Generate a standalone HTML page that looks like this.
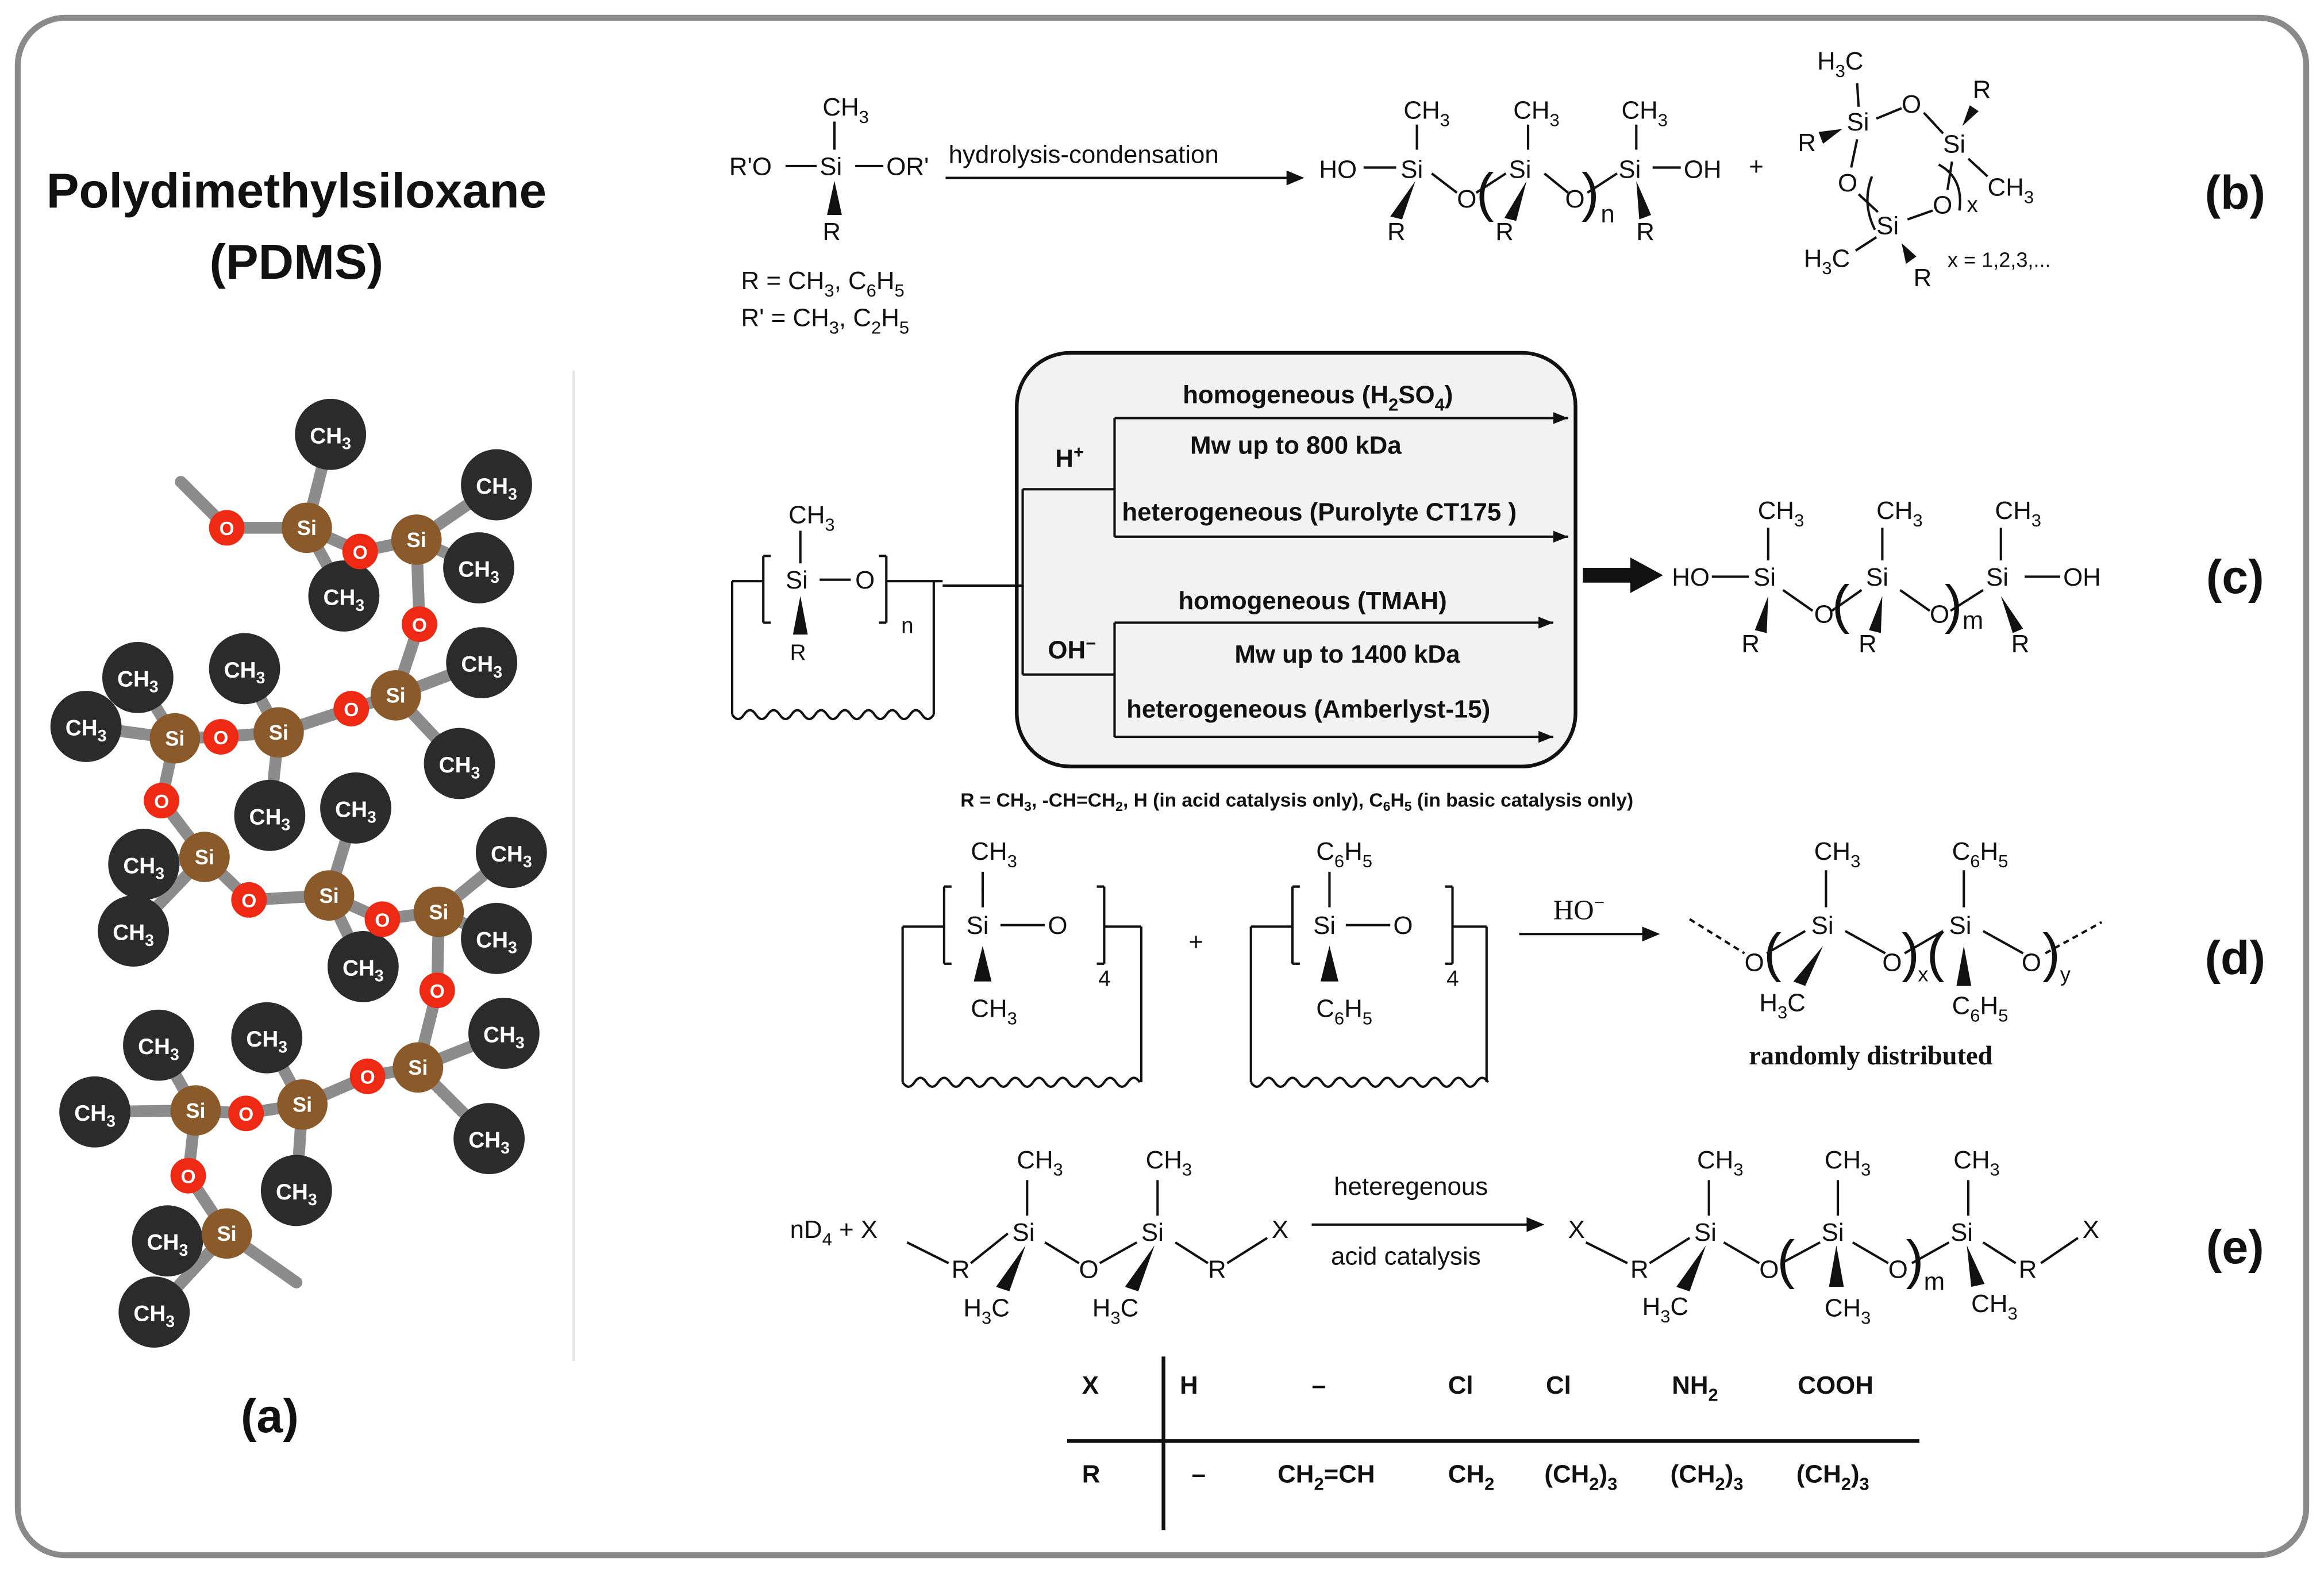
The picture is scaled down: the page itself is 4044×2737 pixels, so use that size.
<!DOCTYPE html>
<html><head><meta charset="utf-8">
<style>
html,body{margin:0;padding:0;background:#fff;}
svg{display:block;}
text{font-family:"Liberation Sans",sans-serif;fill:#111;}
.c{font-size:17px;}
.b{font-size:17px;font-weight:bold;}
.s{font-size:12px;}
.lab{font-size:32px;font-weight:bold;}
.p{font-size:36px;font-weight:normal;}
.serif{font-family:"Liberation Serif",serif;}
.w{fill:#fff;font-weight:bold;}
</style></head><body>
<svg width="4044" height="2737" viewBox="0 0 1568 1061" preserveAspectRatio="none" xmlns="http://www.w3.org/2000/svg">
<rect x="0" y="0" width="1568" height="1061" fill="#fff"/>
<rect x="12" y="12" width="1544" height="1037" rx="32" fill="#fff" stroke="#8a8a8a" stroke-width="4"/>

<!-- (a) -->
<text x="200" y="140" text-anchor="middle" style="font-size:33px;font-weight:bold">Polydimethylsiloxane</text>
<text x="200" y="188" text-anchor="middle" style="font-size:33px;font-weight:bold">(PDMS)</text>
<text x="182" y="966" text-anchor="middle" class="lab">(a)</text>
<line x1="387" y1="250" x2="387" y2="918" stroke="#e4e4e4" stroke-width="1.5"/>

<g stroke="#8c8c8c" stroke-width="8" stroke-linecap="round">
<path d="M207 356L223 293M207 356L153 356M207 356L243 372M207 356L232 402M153 356L122 325
M281 364L243 372M281 364L335 327M281 364L323 383M281 364L283 421M283 421L267 469
M267 469L325 447M267 469L310 515M267 469L237 478M237 478L188 494
M188 494L165 451M188 494L149 497M188 494L182 550M149 497L118 498
M118 498L93 457M118 498L58 490M118 498L109 540M109 540L138 578
M138 578L97 583M138 578L90 628M138 578L168 607M168 607L222 604
M222 604L240 545M222 604L245 652M222 604L258 620M258 620L296 615
M296 615L345 575M296 615L335 633M296 615L295 668M295 668L282 720
M282 720L340 697M282 720L330 768M282 720L248 726M248 726L204 745
M204 745L180 700M204 745L200 803M204 745L166 751M166 751L132 749
M132 749L107 705M132 749L64 750M132 749L127 793M127 793L153 832
M153 832L113 837M153 832L104 885M153 832L200 865"/>
</g>
<g>
<g fill="#2b2b2b">
<circle cx="223" cy="293" r="24"/><circle cx="335" cy="327" r="24"/><circle cx="323" cy="383" r="24"/><circle cx="232" cy="402" r="24"/>
<circle cx="93" cy="457" r="24"/><circle cx="165" cy="451" r="24"/><circle cx="325" cy="447" r="24"/><circle cx="58" cy="490" r="24"/>
<circle cx="310" cy="515" r="24"/><circle cx="182" cy="550" r="24"/><circle cx="240" cy="545" r="24"/><circle cx="345" cy="575" r="24"/>
<circle cx="97" cy="583" r="24"/><circle cx="90" cy="628" r="24"/><circle cx="335" cy="633" r="24"/><circle cx="245" cy="652" r="24"/>
<circle cx="107" cy="705" r="24"/><circle cx="180" cy="700" r="24"/><circle cx="340" cy="697" r="24"/><circle cx="64" cy="750" r="24"/>
<circle cx="330" cy="768" r="24"/><circle cx="200" cy="803" r="24"/><circle cx="113" cy="837" r="24"/><circle cx="104" cy="885" r="24"/>
</g>
<g fill="#8a5a2a">
<circle cx="207" cy="356" r="17"/><circle cx="281" cy="364" r="17"/><circle cx="118" cy="498" r="17"/><circle cx="188" cy="494" r="17"/>
<circle cx="267" cy="469" r="17"/><circle cx="138" cy="578" r="17"/><circle cx="222" cy="604" r="17"/><circle cx="296" cy="615" r="17"/>
<circle cx="132" cy="749" r="17"/><circle cx="204" cy="745" r="17"/><circle cx="282" cy="720" r="17"/><circle cx="153" cy="832" r="17"/>
</g>
<g fill="#ee2a14">
<circle cx="153" cy="356" r="12"/><circle cx="243" cy="372" r="12"/><circle cx="283" cy="421" r="12"/><circle cx="149" cy="497" r="12"/>
<circle cx="237" cy="478" r="12"/><circle cx="109" cy="540" r="12"/><circle cx="168" cy="607" r="12"/><circle cx="258" cy="620" r="12"/>
<circle cx="295" cy="668" r="12"/><circle cx="166" cy="751" r="12"/><circle cx="248" cy="726" r="12"/><circle cx="127" cy="793" r="12"/>
</g>
<g class="w" style="font-size:15px" text-anchor="middle">
<text class="w" x="223" y="299">CH<tspan dy="4" font-size="11">3</tspan></text><text class="w" x="335" y="333">CH<tspan dy="4" font-size="11">3</tspan></text>
<text class="w" x="323" y="389">CH<tspan dy="4" font-size="11">3</tspan></text><text class="w" x="232" y="408">CH<tspan dy="4" font-size="11">3</tspan></text>
<text class="w" x="93" y="463">CH<tspan dy="4" font-size="11">3</tspan></text><text class="w" x="165" y="457">CH<tspan dy="4" font-size="11">3</tspan></text>
<text class="w" x="325" y="453">CH<tspan dy="4" font-size="11">3</tspan></text><text class="w" x="58" y="496">CH<tspan dy="4" font-size="11">3</tspan></text>
<text class="w" x="310" y="521">CH<tspan dy="4" font-size="11">3</tspan></text><text class="w" x="182" y="556">CH<tspan dy="4" font-size="11">3</tspan></text>
<text class="w" x="240" y="551">CH<tspan dy="4" font-size="11">3</tspan></text><text class="w" x="345" y="581">CH<tspan dy="4" font-size="11">3</tspan></text>
<text class="w" x="97" y="589">CH<tspan dy="4" font-size="11">3</tspan></text><text class="w" x="90" y="634">CH<tspan dy="4" font-size="11">3</tspan></text>
<text class="w" x="335" y="639">CH<tspan dy="4" font-size="11">3</tspan></text><text class="w" x="245" y="658">CH<tspan dy="4" font-size="11">3</tspan></text>
<text class="w" x="107" y="711">CH<tspan dy="4" font-size="11">3</tspan></text><text class="w" x="180" y="706">CH<tspan dy="4" font-size="11">3</tspan></text>
<text class="w" x="340" y="703">CH<tspan dy="4" font-size="11">3</tspan></text><text class="w" x="64" y="756">CH<tspan dy="4" font-size="11">3</tspan></text>
<text class="w" x="330" y="774">CH<tspan dy="4" font-size="11">3</tspan></text><text class="w" x="200" y="809">CH<tspan dy="4" font-size="11">3</tspan></text>
<text class="w" x="113" y="843">CH<tspan dy="4" font-size="11">3</tspan></text><text class="w" x="104" y="891">CH<tspan dy="4" font-size="11">3</tspan></text>
</g>
<g style="font-size:14px" text-anchor="middle">
<text class="w" x="207" y="361">Si</text><text class="w" x="281" y="369">Si</text><text class="w" x="118" y="503">Si</text><text class="w" x="188" y="499">Si</text>
<text class="w" x="267" y="474">Si</text><text class="w" x="138" y="583">Si</text><text class="w" x="222" y="609">Si</text><text class="w" x="296" y="620">Si</text>
<text class="w" x="132" y="754">Si</text><text class="w" x="204" y="750">Si</text><text class="w" x="282" y="725">Si</text><text class="w" x="153" y="837">Si</text>
</g>
<g style="font-size:13px" text-anchor="middle">
<text class="w" x="153" y="361">O</text><text class="w" x="243" y="377">O</text><text class="w" x="283" y="426">O</text><text class="w" x="149" y="502">O</text>
<text class="w" x="237" y="483">O</text><text class="w" x="109" y="545">O</text><text class="w" x="168" y="612">O</text><text class="w" x="258" y="625">O</text>
<text class="w" x="295" y="673">O</text><text class="w" x="166" y="756">O</text><text class="w" x="248" y="731">O</text><text class="w" x="127" y="798">O</text>
</g>
</g>

<g stroke="#111" stroke-width="1.6" fill="none">
<!-- (b) lines -->
<path d="M530 112H551M577 112H596M563 82V101"/>
<path d="M638 120H878"/>
<path d="M920 113H942M956 84V101M966 117L983 130M996 130L1016 117M1031 84V101M1042 117L1058 130M1071 130L1091 117M1104 84V101M1115 113H1134"/>
<!-- cyclic -->
<path d="M1253 56L1254 72M1266 80L1283 73M1298 76L1311 90M1328 107L1341 119M1253 94L1249 113M1254 131L1267 143M1287 148L1304 142M1314 128L1317 109M1266 160L1252 169"/>
<path d="M1263 119Q1256 137 1265 155"/>
<path d="M1308 111Q1325 120 1322 142"/>
</g>
<g fill="#111">
<polygon points="880,120 868,115 868,125"/>
<polygon points="563,122 558,145 568,145"/>
<polygon points="955,122 938,146 946,148"/>
<polygon points="1030,122 1015,147 1023,149"/>
<polygon points="1104,122 1106,148 1114,145"/>
<polygon points="1243,87 1227,89 1230,97"/>
<polygon points="1324,85 1329,71 1335,75"/>
<polygon points="1283,164 1286,178 1293,173"/>
</g>
<text class="c" x="492" y="118">R'O</text><text class="c" x="553" y="118">Si</text><text class="c" x="598" y="118">OR'</text>
<text class="c" x="555" y="78">CH<tspan class="s" dy="5">3</tspan></text>
<text class="c" x="555" y="162">R</text>
<text class="c" x="640" y="110">hydrolysis-condensation</text>
<text class="c" x="500" y="195">R = CH<tspan class="s" dy="5">3</tspan><tspan dy="-5">, C</tspan><tspan class="s" dy="5">6</tspan><tspan dy="-5">H</tspan><tspan class="s" dy="5">5</tspan></text>
<text class="c" x="500" y="220">R' = CH<tspan class="s" dy="5">3</tspan><tspan dy="-5">, C</tspan><tspan class="s" dy="5">2</tspan><tspan dy="-5">H</tspan><tspan class="s" dy="5">5</tspan></text>
<text class="c" x="890" y="120">HO</text><text class="c" x="945" y="120">Si</text>
<text class="c" x="947" y="80">CH<tspan class="s" dy="5">3</tspan></text><text class="c" x="936" y="162">R</text>
<text class="c" x="983" y="140">O</text><text class="p" x="996" y="142">(</text>
<text class="c" x="1018" y="120">Si</text><text class="c" x="1021" y="80">CH<tspan class="s" dy="5">3</tspan></text><text class="c" x="1009" y="162">R</text>
<text class="c" x="1056" y="140">O</text><text class="p" x="1067" y="142">)</text><text class="c" x="1080" y="150">n</text>
<text class="c" x="1092" y="120">Si</text><text class="c" x="1094" y="80">CH<tspan class="s" dy="5">3</tspan></text><text class="c" x="1104" y="162">R</text>
<text class="c" x="1136" y="120">OH</text><text class="c" x="1180" y="118">+</text>
<text class="c" x="1226" y="47">H<tspan class="s" dy="5">3</tspan><tspan dy="-5">C</tspan></text>
<text class="c" x="1246" y="88">Si</text><text class="c" x="1283" y="76">O</text><text class="c" x="1331" y="66">R</text>
<text class="c" x="1311" y="103">Si</text><text class="c" x="1341" y="132">CH<tspan class="s" dy="5">3</tspan></text>
<text class="c" x="1213" y="102">R</text><text class="c" x="1240" y="129">O</text><text class="c" x="1304" y="144">O</text>
<text class="c" x="1327" y="143" style="font-size:15px">x</text>
<text class="c" x="1266" y="158">Si</text><text class="c" x="1217" y="180">H<tspan class="s" dy="5">3</tspan><tspan dy="-5">C</tspan></text>
<text class="c" x="1291" y="193">R</text><text style="font-size:14px" x="1314" y="180">x = 1,2,3,...</text>
<text x="1508" y="141" class="lab" text-anchor="middle">(b)</text>

<!-- (c) -->
<rect x="686" y="238" width="377" height="279" rx="36" fill="#f2f2f2" stroke="#111" stroke-width="2.5"/>
<g stroke="#111" stroke-width="1.6" fill="none">
<path d="M494 392V482M630 392V482M494 392H515M598 392H636M515 375V420M515 375H520M515 420H520M598 375V420M598 375H593M598 420H593"/>
<path d="M540 358V380M553 391H574"/>
<path d="M494 482q4 6 8 0t8 0t8 0t8 0t8 0t8 0t8 0t8 0t8 0t8 0t8 0t8 0t8 0t8 0t8 0t8 0t8 0"/>
<path d="M636 395H690M690 330V455M690 330H752M690 455H752M752 282V362M752 282H1058M752 362H1058M752 420V497M752 420H1048M752 497H1048"/>
<path d="M1155 389H1180M1193 356V378M1203 398L1223 412M1236 412L1256 398M1270 356V378M1282 398L1302 412M1316 412L1338 398M1350 356V378M1366 389H1390"/>
</g>
<g fill="#111">
<polygon points="540,402 535,428 545,428"/>
<polygon points="1058,282 1048,278 1048,286"/><polygon points="1058,362 1048,358 1048,366"/>
<polygon points="1048,420 1038,416 1038,424"/><polygon points="1048,497 1038,493 1038,501"/>
<polygon points="1068,383 1100,383 1100,376 1122,388 1100,400 1100,393 1068,393"/>
<polygon points="1193,402 1184,425 1192,427"/>
<polygon points="1270,402 1261,425 1269,427"/>
<polygon points="1350,402 1358,427 1365,424"/>
</g>
<text class="c" x="532" y="353">CH<tspan class="s" dy="5">3</tspan></text>
<text class="c" x="530" y="397">Si</text><text class="c" x="577" y="397">O</text><text class="c" x="608" y="427" style="font-size:15px">n</text>
<text class="c" x="533" y="445" style="font-size:15px">R</text>
<text class="b" x="712" y="315">H<tspan class="s" dy="-6">+</tspan></text>
<text class="b" x="707" y="444">OH<tspan class="s" dy="-6">−</tspan></text>
<text class="b" x="798" y="272">homogeneous (H<tspan class="s" dy="5">2</tspan><tspan dy="-5">SO</tspan><tspan class="s" dy="5">4</tspan><tspan dy="-5">)</tspan></text>
<text class="b" x="803" y="306">Mw  up to 800 kDa</text>
<text class="b" x="757" y="351">heterogeneous (Purolyte CT175 )</text>
<text class="b" x="795" y="411">homogeneous (TMAH)</text>
<text class="b" x="833" y="447">Mw up to 1400 kDa</text>
<text class="b" x="760" y="484">heterogeneous (Amberlyst-15)</text>
<text class="c" x="1128" y="395">HO</text><text class="c" x="1183" y="395">Si</text><text class="c" x="1186" y="350">CH<tspan class="s" dy="5">3</tspan></text>
<text class="c" x="1175" y="440">R</text><text class="c" x="1224" y="420">O</text><text class="p" x="1236" y="420">(</text>
<text class="c" x="1259" y="395">Si</text><text class="c" x="1266" y="350">CH<tspan class="s" dy="5">3</tspan></text><text class="c" x="1254" y="440">R</text>
<text class="c" x="1302" y="420">O</text><text class="p" x="1312" y="420">)</text><text class="c" x="1324" y="424">m</text>
<text class="c" x="1340" y="395">Si</text><text class="c" x="1346" y="350">CH<tspan class="s" dy="5">3</tspan></text><text class="c" x="1357" y="440">R</text>
<text class="c" x="1392" y="395">OH</text>
<text x="1508" y="400" class="lab" text-anchor="middle">(c)</text>
<text x="648" y="544" style="font-size:13px;font-weight:bold">R = CH<tspan dy="3" font-size="9">3</tspan><tspan dy="-3">,  -CH=CH</tspan><tspan dy="3" font-size="9">2</tspan><tspan dy="-3">, H (in acid catalysis only), C</tspan><tspan dy="3" font-size="9">6</tspan><tspan dy="-3">H</tspan><tspan dy="3" font-size="9">5</tspan><tspan dy="-3"> (in basic catalysis only)</tspan></text>

<!-- (d) -->
<g stroke="#111" stroke-width="1.6" fill="none">
<path d="M609 625V730M770 625V730M609 625H637M745 625H770M637 598V650M637 598H642M637 650H642M745 598V650M745 598H740M745 650H740M663 588V612M675 624H705"/>
<path d="M609 730q4 6 8 0t8 0t8 0t8 0t8 0t8 0t8 0t8 0t8 0t8 0t8 0t8 0t8 0t8 0t8 0t8 0t8 0t8 0t8 0t8 0"/>
<path d="M844 625V730M1003 625V730M844 625H872M980 625H1003M872 598V650M872 598H877M872 650H877M980 598V650M980 598H975M980 650H975M897 588V612M908 624H938"/>
<path d="M844 730q4 6 8 0t8 0t8 0t8 0t8 0t8 0t8 0t8 0t8 0t8 0t8 0t8 0t8 0t8 0t8 0t8 0t8 0t8 0t8 0t8 0"/>
<path d="M1025 630H1115"/>
<path d="M1140 620L1177 643" stroke-dasharray="4 3"/><path d="M1380 643L1418 622" stroke-dasharray="4 3"/>
<path d="M1192 643L1218 628M1245 628L1272 643M1232 587V612M1285 643L1311 628M1338 628L1365 643M1325 587V612"/>
</g>
<g fill="#111">
<polygon points="663,638 657,662 669,662"/><polygon points="897,638 891,662 903,662"/>
<polygon points="1120,630 1108,625 1108,635"/>
<polygon points="1230,638 1210,662 1218,665"/>
<polygon points="1325,638 1320,665 1330,665"/>
</g>
<text class="c" x="655" y="580">CH<tspan class="s" dy="5">3</tspan></text><text class="c" x="652" y="630">Si</text><text class="c" x="707" y="630">O</text>
<text class="c" x="655" y="686">CH<tspan class="s" dy="5">3</tspan></text><text class="c" x="741" y="665" style="font-size:15px">4</text>
<text class="c" x="802" y="641">+</text>
<text class="c" x="888" y="580">C<tspan class="s" dy="5">6</tspan><tspan dy="-5">H</tspan><tspan class="s" dy="5">5</tspan></text>
<text class="c" x="886" y="630">Si</text><text class="c" x="940" y="630">O</text>
<text class="c" x="888" y="686">C<tspan class="s" dy="5">6</tspan><tspan dy="-5">H</tspan><tspan class="s" dy="5">5</tspan></text>
<text class="c" x="976" y="665" style="font-size:15px">4</text>
<text class="c serif" x="1048" y="620" style="font-size:19px">HO<tspan dy="-7" font-size="13">−</tspan></text>
<text class="c" x="1177" y="655">O</text><text class="p" x="1190" y="655">(</text>
<text class="c" x="1222" y="630">Si</text><text class="c" x="1224" y="580">CH<tspan class="s" dy="5">3</tspan></text>
<text class="c" x="1187" y="682">H<tspan class="s" dy="5">3</tspan><tspan dy="-5">C</tspan></text>
<text class="c" x="1270" y="655">O</text><text class="p" x="1283" y="655">)</text><text class="c" x="1294" y="662" style="font-size:14px">x</text>
<text class="p" x="1300" y="655">(</text>
<text class="c" x="1315" y="630">Si</text><text class="c" x="1317" y="580">C<tspan class="s" dy="5">6</tspan><tspan dy="-5">H</tspan><tspan class="s" dy="5">5</tspan></text>
<text class="c" x="1317" y="684">C<tspan class="s" dy="5">6</tspan><tspan dy="-5">H</tspan><tspan class="s" dy="5">5</tspan></text>
<text class="c" x="1364" y="655">O</text><text class="p" x="1378" y="655">)</text><text class="c" x="1390" y="662" style="font-size:14px">y</text>
<text class="serif" x="1180" y="718" style="font-size:18px;font-weight:bold">randomly distributed</text>
<text x="1508" y="657" class="lab" text-anchor="middle">(d)</text>

<!-- (e) -->
<g stroke="#111" stroke-width="1.6" fill="none">
<path d="M612 838L640 852M655 852L680 832M693 796V820M705 838L728 852M742 852L767 838M781 796V820M793 838L815 852M828 852L855 835"/>
<path d="M885 826H1035"/>
<path d="M1070 838L1098 852M1113 852L1140 835M1153 796V820M1163 838L1187 852M1202 852L1228 838M1240 796V820M1250 838L1274 852M1290 852L1315 838M1328 796V820M1338 838L1360 852M1377 852L1402 835"/>
<path d="M720 972H1295M785 915V1032" stroke-width="2.5"/>
</g>
<g fill="#111">
<polygon points="1042,826 1030,821 1030,831"/>
<polygon points="692,840 672,868 681,871"/><polygon points="779,840 759,868 768,871"/>
<polygon points="1151,840 1131,868 1140,871"/>
<polygon points="1239,840 1234,868 1244,868"/>
<polygon points="1327,840 1330,868 1339,866"/>
</g>
<text class="c" x="533" y="835">nD<tspan class="s" dy="5">4</tspan><tspan dy="-5"> +  X</tspan></text>
<text class="c" x="642" y="862">R</text><text class="c" x="683" y="837">Si</text><text class="c" x="686" y="788">CH<tspan class="s" dy="5">3</tspan></text>
<text class="c" x="650" y="888">H<tspan class="s" dy="5">3</tspan><tspan dy="-5">C</tspan></text>
<text class="c" x="728" y="862">O</text><text class="c" x="770" y="837">Si</text><text class="c" x="773" y="788">CH<tspan class="s" dy="5">3</tspan></text>
<text class="c" x="737" y="888">H<tspan class="s" dy="5">3</tspan><tspan dy="-5">C</tspan></text>
<text class="c" x="815" y="862">R</text><text class="c" x="858" y="835">X</text>
<text class="c" x="900" y="806">heteregenous</text><text class="c" x="898" y="853">acid catalysis</text>
<text class="c" x="1058" y="835">X</text><text class="c" x="1100" y="862">R</text><text class="c" x="1143" y="837">Si</text>
<text class="c" x="1145" y="788">CH<tspan class="s" dy="5">3</tspan></text><text class="c" x="1108" y="887">H<tspan class="s" dy="5">3</tspan><tspan dy="-5">C</tspan></text>
<text class="c" x="1187" y="862">O</text><text class="p" x="1199" y="862">(</text>
<text class="c" x="1229" y="837">Si</text><text class="c" x="1231" y="788">CH<tspan class="s" dy="5">3</tspan></text><text class="c" x="1231" y="888">CH<tspan class="s" dy="5">3</tspan></text>
<text class="c" x="1274" y="862">O</text><text class="p" x="1286" y="862">)</text><text class="c" x="1298" y="870">m</text>
<text class="c" x="1316" y="837">Si</text><text class="c" x="1318" y="788">CH<tspan class="s" dy="5">3</tspan></text><text class="c" x="1330" y="885">CH<tspan class="s" dy="5">3</tspan></text>
<text class="c" x="1362" y="862">R</text><text class="c" x="1405" y="835">X</text>
<text x="1508" y="852" class="lab" text-anchor="middle">(e)</text>
<g class="b">
<text class="b" x="730" y="940">X</text><text class="b" x="796" y="940">H</text><text class="b" x="885" y="940">–</text>
<text class="b" x="977" y="940">Cl</text><text class="b" x="1043" y="940">Cl</text>
<text class="b" x="1128" y="940">NH<tspan class="s" dy="5">2</tspan></text><text class="b" x="1213" y="940">COOH</text>
<text class="b" x="730" y="1000">R</text><text class="b" x="804" y="1000">–</text>
<text class="b" x="862" y="1000">CH<tspan class="s" dy="5">2</tspan><tspan dy="-5">=CH</tspan></text>
<text class="b" x="977" y="1000">CH<tspan class="s" dy="5">2</tspan></text>
<text class="b" x="1042" y="1000">(CH<tspan class="s" dy="5">2</tspan><tspan dy="-5">)</tspan><tspan class="s" dy="5">3</tspan></text>
<text class="b" x="1127" y="1000">(CH<tspan class="s" dy="5">2</tspan><tspan dy="-5">)</tspan><tspan class="s" dy="5">3</tspan></text>
<text class="b" x="1212" y="1000">(CH<tspan class="s" dy="5">2</tspan><tspan dy="-5">)</tspan><tspan class="s" dy="5">3</tspan></text>
</g>
</svg>
</body></html>
